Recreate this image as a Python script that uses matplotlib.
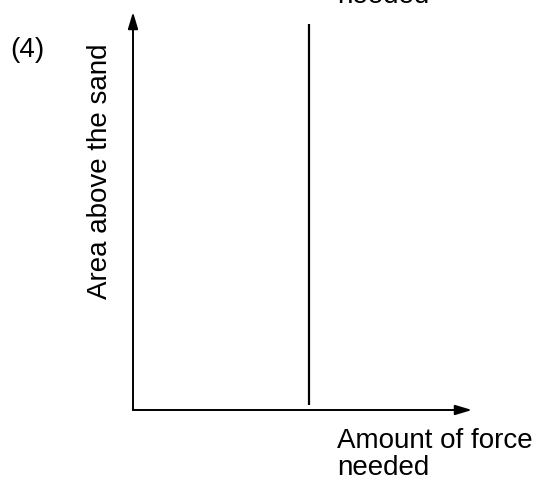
import numpy as np
import matplotlib.pyplot as plt

plt.rcParams["font.family"] = ["Liberation Sans", "DejaVu Sans"]

# panel (4): area above the sand stays fixed, force needed is constant
force = [0.52, 0.52]
area = [0.013, 0.969]

panel = "(4)"
xlabel = ["Amount of force", "needed"]
ylabel = "Area above the sand"
prev_tail = "needed"  # bottom of the label from the panel above, cut by the page

W, H = 544, 482
fig = plt.figure(figsize=(W/100, H/100), dpi=100)
x0, y0 = 133, 410   # origin in pixels
x1, y1 = 472, 12    # arrow tips
ax = fig.add_axes([x0/W, 1 - y0/H, (x1 - x0)/W, (y0 - y1)/H])
ax.set_xlim(0, 1)
ax.set_ylim(0, 1)
for s in ax.spines.values():
    s.set_visible(False)
ax.set_xticks([])
ax.set_yticks([])
ax.patch.set_alpha(0)

# axes with arrow heads
arr = dict(arrowstyle="-|>,head_length=1.0,head_width=0.3", color="black", lw=1.4,
           shrinkA=0, shrinkB=0)
ax.annotate("", xy=(1, 0), xytext=(0, 0), arrowprops=arr)
ax.annotate("", xy=(0, 1), xytext=(0, 0), arrowprops=arr)

ax.plot(force, area, color="black", lw=1.6, solid_capstyle="butt")

fig.text(10/W, 1 - 50/H, panel, fontsize=20, va="center", ha="left")
fig.text(100/W, 1 - 171/H, ylabel, fontsize=20, rotation=90, va="center", ha="center")
fig.text(337/W, 1 - 448/H, xlabel[0], fontsize=20, va="baseline", ha="left")
fig.text(337/W, 1 - 475/H, xlabel[1], fontsize=20, va="baseline", ha="left")
fig.text(337/W, 1 - 3/H, prev_tail, fontsize=20, va="baseline", ha="left")

fig.savefig("out.png", dpi=100)
